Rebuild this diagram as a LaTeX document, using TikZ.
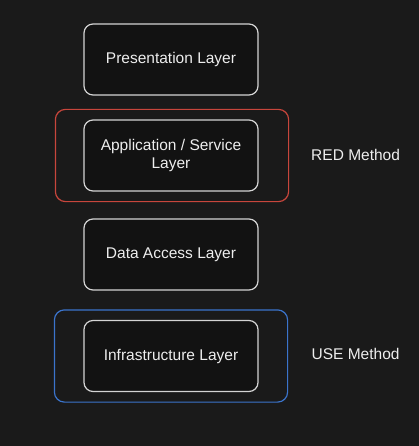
\documentclass[tikz,border=0pt]{standalone}
\usepackage{fontspec}
\setmainfont{Liberation Sans}
\usetikzlibrary{calc, backgrounds, positioning}
\definecolor{canvas}{HTML}{1A1A1A}
\definecolor{boxfill}{HTML}{121212}
\definecolor{edgegrey}{HTML}{D4D4D4}
\definecolor{textgrey}{HTML}{EEEEEE}
\definecolor{redline}{HTML}{C8463C}
\definecolor{blueline}{HTML}{3B74CC}
\tikzstyle{layer}   = [rectangle,draw=edgegrey,fill=boxfill,line width=1.2pt,rounded corners=9pt,minimum width=174pt,minimum height=71pt,text=textgrey,align=center,font=\fontsize{15.5}{18}\selectfont]
\tikzstyle{redbox}  = [draw=redline,line width=1.2pt,rounded corners=10pt]
\tikzstyle{bluebox} = [draw=blueline,line width=1.2pt,rounded corners=10pt]
\tikzstyle{method}  = [text=textgrey,font=\fontsize{15.5}{18}\selectfont]

\begin{document}
\begin{tikzpicture}[x=1pt,y=-1pt]
        \fill[canvas] (0,0) rectangle (419,446);

        \node[layer]  (presentation) at (171,59.5)  {Presentation Layer};
        \node[layer]  (application)  at (171,155.5) {Application / Service\\Layer};
        \node[layer]  (data access)  at (171,254.5) {Data Access Layer};
        \node[layer]  (infra)        at (171,356)   {Infrastructure Layer};

        \draw[redbox]  ($(application.north west)+(-28,-10)$) rectangle ($(application.south east)+(30,10)$);
        \draw[bluebox] ($(infra.north west)+(-29,-10)$) rectangle ($(infra.south east)+(29,10)$);

        \node[method] (red)  at ($(application.east)+(97,-1)$) {RED Method};
        \node[method] (use)  at ($(infra.east)+(97,-2)$)       {USE Method};
    \end{tikzpicture}
\end{document}
